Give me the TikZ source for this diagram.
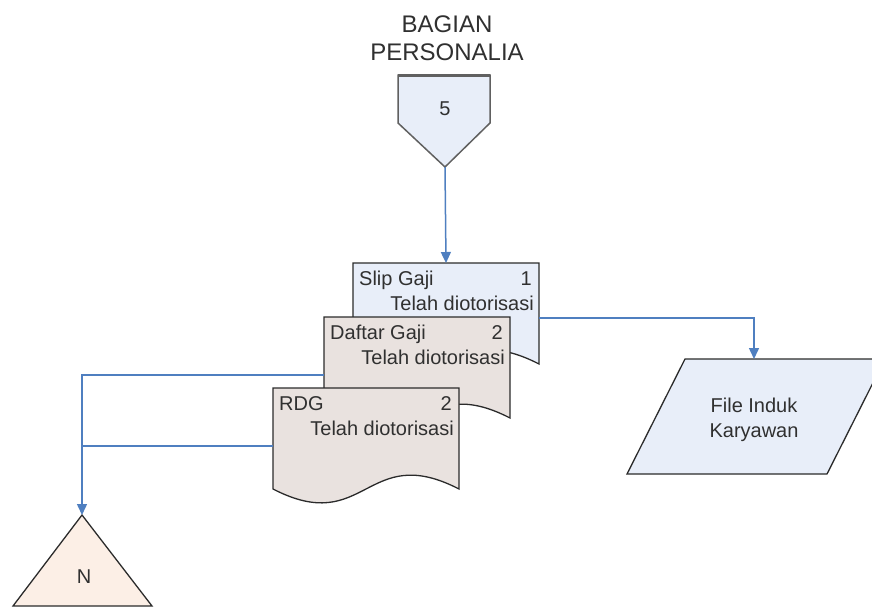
\documentclass[tikz,border=0pt]{standalone}
\usepackage{fontspec}
\setmainfont{Liberation Sans}
\usetikzlibrary{arrows.meta}
\definecolor{docline}{HTML}{2B2B2B}
\definecolor{lblue}{HTML}{E8EEF9}
\definecolor{lgrey}{HTML}{E9E2DF}
\definecolor{lpeach}{HTML}{FCEFE6}
\definecolor{conn}{HTML}{4F7FC0}
\definecolor{txt}{HTML}{303030}
\newcommand\docshape[6]{%
  \path[docstyle, fill=#4] (#2,#3) -- (#2+186,#3) -- (#2+186,#3+101)
    .. controls (#2+93,#3+53) and (#2+93,#3+149) .. (#2,#3+101) -- cycle;
  \node[doctext, anchor=base west] (#1-title) at (#2+6,#3+22) {#5};
  \node[doctext, anchor=base east] (#1-num) at (#2+179,#3+22) {#6};
  \node[doctext, anchor=base east] (#1-sub) at (#2+181,#3+47) {Telah diotorisasi};
  \coordinate (#1-top) at (#2+93,#3);
  \coordinate (#1-l) at (#2,#3+58);
  \coordinate (#1-r) at (#2+186,#3+55);
}
\begin{document}
\begin{tikzpicture}[x=1pt,y=-1pt,
  docstyle/.style={draw=docline, line width=1.3pt, line join=miter},
  doctext/.style={font=\fontsize{20}{24}\selectfont, text=txt, inner sep=0pt},
  titletext/.style={font=\fontsize{24}{28}\selectfont, text=txt, inner sep=0pt, anchor=base},
  connline/.style={draw=conn, line width=1.5pt},
  arr/.style={connline, -{Triangle[width=10pt,length=11pt]}}]
\useasboundingbox (0,0) rectangle (872,608);
\clip (0,0) rectangle (872,608);
% title
\node[titletext] (t1) at (447,32) {BAGIAN};
\node[titletext] (t2) at (447,60) {PERSONALIA};
% off-page connector
\path[fill=lblue, draw=docline!75, line width=1.5pt, line join=miter]
  (398,75) -- (490,75) -- (490,123) -- (445,167) -- (398,123) -- cycle;
\draw[docline!75, line width=3pt] (398,75) -- (490,75);
\node[doctext, anchor=base] (off) at (445,115) {5};
\coordinate (offtip) at (445,167);
% documents
\docshape{slip}{353}{263}{lblue}{Slip Gaji}{1}
\docshape{daftar}{324}{317}{lgrey}{Daftar Gaji}{2}
\docshape{rdg}{273}{388}{lgrey}{RDG}{2}
% file induk
\path[docstyle, fill=lblue] (685,359) -- (885,359) -- (827,474) -- (627,474) -- cycle;
\node[doctext, anchor=base] (file1) at (754,412) {File Induk};
\node[doctext, anchor=base] (file2) at (754,437) {Karyawan};
\coordinate (filetop) at (754,359);
% terminator triangle N
\path[docstyle, fill=lpeach] (82,515) -- (152,606) -- (13,606) -- cycle;
\node[doctext, anchor=base] (nlab) at (84,583) {N};
\coordinate (ntop) at (82,515);
% connectors
\draw[arr] (offtip) -- (slip-top);
\draw[arr] (slip-r) -| (filetop);
\draw[arr] (daftar-l) -| (ntop);
\draw[connline] (rdg-l) -- (rdg-l -| ntop);
\end{tikzpicture}
\end{document}
